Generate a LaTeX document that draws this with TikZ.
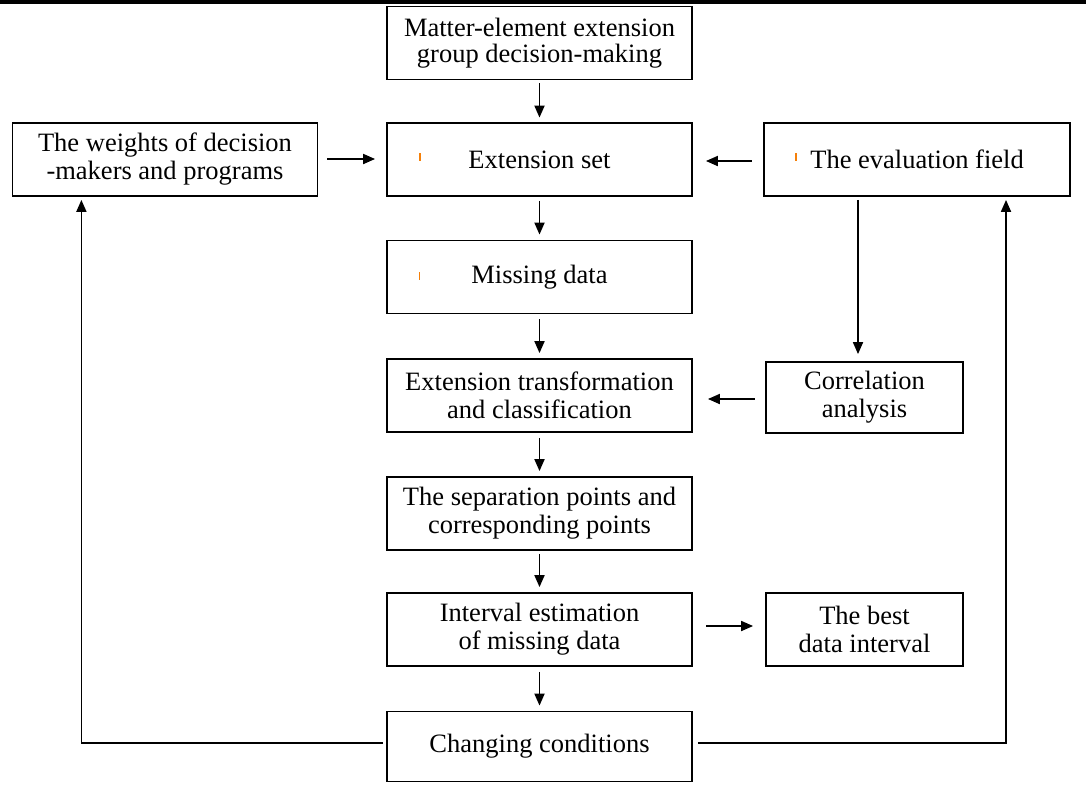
\documentclass[tikz,border=0pt]{standalone}
\usepackage{fontspec}
\setmainfont{Liberation Serif}
\usetikzlibrary{arrows.meta,calc}
\begin{document}
\begin{tikzpicture}[x=1pt,y=-1pt,
  box/.style={draw=black,line width=1.8pt,minimum width=305pt,minimum height=73pt,
    align=center,inner sep=0pt,font=\fontsize{26.5}{28}\selectfont},
  sbox/.style={box,minimum width=197pt,minimum height=71pt},
  arr/.style={-{Triangle[length=12pt,width=10pt]},line width=1.8pt},
  tick/.style={draw=orange!85!brown,line width=1.6pt}]
\useasboundingbox (0,0) rectangle (1086,785);
\fill[white] (0,0) rectangle (1086,785);
\coordinate (barL) at (0,1.8);
\coordinate (barR) at (1086,1.8);
\draw[line width=3.6pt] (barL) -- (barR);

\node[box,font=\fontsize{26.5}{25.5}\selectfont] (mat) at (539.5,43) {Matter-element extension\\group decision-making};
\node[box] (ext) at (539.5,159.5) {Extension set};
\node[box] (wts) at (165,159.5) {The weights of decision\\-makers and programs};
\node[box,minimum width=306pt] (evf) at (917,159.5) {The evaluation field};
\node[box] (mis) at (539.5,277) {Missing data};
\node[box] (etc) at (539.5,395.5) {Extension transformation\\and classification};
\node[sbox] (cor) at (864.5,397.5) {Correlation\\analysis};
\node[box] (sep) at (539.5,513.5) {The separation points and\\corresponding points};
\node[box] (int) at (539.5,629.5) {Interval estimation\\of missing data};
\node[sbox,minimum height=73pt] (bst) at (864.5,629.5) {The best\\data interval};
\node[box,minimum height=70pt] (chg) at (539.5,746.5) {Changing conditions};

% orange specks
\draw[tick] (419.7,153) -- (419.7,161);
\draw[tick] (419.5,272) -- (419.5,280);
\draw[tick] (796,153) -- (796,161);

% main column
\draw[arr,shorten <=3pt,shorten >=4.5pt] (mat) -- (ext);
\draw[arr,shorten <=4pt,shorten >=5pt] (ext) -- (mis);
\draw[arr,shorten <=5pt,shorten >=5pt] (mis) -- (etc);
\draw[arr,shorten <=5pt,shorten >=5pt] (etc) -- (sep);
\draw[arr,shorten <=3pt,shorten >=5pt] (sep) -- (int);
\draw[arr,shorten <=5pt,shorten >=5pt] (int) -- (chg);

% side arrows
\draw[arr,shorten <=9pt,shorten >=11pt] ([yshift=0.5pt]wts.east) -- ([yshift=0.5pt]ext.west);
\draw[arr,shorten <=11.5pt,shorten >=13pt] ([yshift=-1.5pt]evf.west) -- ([yshift=-1.5pt]ext.east);
\draw[arr,shorten <=10.5pt,shorten >=15pt] ([yshift=-1.5pt]cor.west) -- ([yshift=-3.5pt]etc.east);
\draw[arr,shorten <=13.5pt,shorten >=12pt] ([yshift=3.5pt]int.east) -- ([yshift=3.5pt]bst.west);

% evaluation field down to correlation analysis
\draw[arr,shorten <=3pt,shorten >=7pt] ([xshift=-59pt]evf.south) -- ([xshift=-6.5pt]cor.north);

% feedback loops
\draw[arr,shorten <=3pt,shorten >=3pt] ([yshift=3.5pt]chg.west) -| ([xshift=-83.6pt]wts.south);
\draw[arr,shorten <=5pt,shorten >=3pt] ([yshift=3.5pt]chg.east) -| ([xshift=89pt]evf.south);
\end{tikzpicture}
\end{document}
